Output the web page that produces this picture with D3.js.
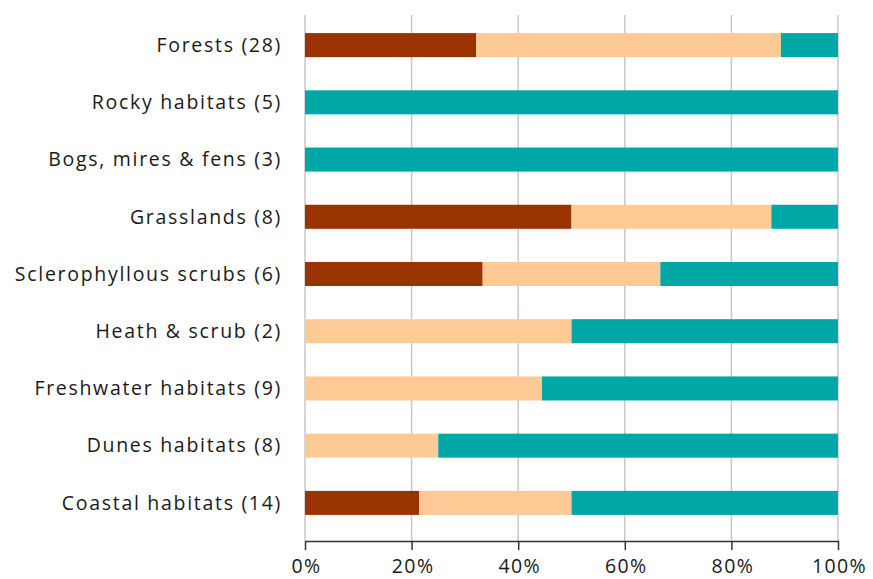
<!DOCTYPE html>
<html>
<head>
<meta charset="utf-8">
<script src="https://cdn.jsdelivr.net/npm/d3@7"></script>
<style>
  body { margin: 0; background: #fff; }
  text { font-family: "Open Sans", "Noto Sans", sans-serif; fill: #1a1a1a; }
</style>
</head>
<body>
<div id="chart"></div>
<script>
// habitat types, with number of assessments
var categories = ["Forests (28)", "Rocky habitats (5)", "Bogs, mires & fens (3)", "Grasslands (8)",
    "Sclerophyllous scrubs (6)", "Heath & scrub (2)", "Freshwater habitats (9)",
    "Dunes habitats (8)", "Coastal habitats (14)"];
var seriesA = [9, 0, 0, 4, 2, 0, 0, 0, 3];   // dark brown
var seriesB = [16, 0, 0, 3, 2, 1, 4, 2, 4];  // peach
var seriesC = [3, 5, 3, 1, 2, 1, 5, 6, 7];   // teal
var tickValues = [0, 0.2, 0.4, 0.6, 0.8, 1];

var colors = ["#993300", "#FFCA96", "#00A7A7"];

var width = 873, height = 579;

var svg = d3.select("#chart")
    .append("svg")
    .attr("width", width)
    .attr("height", height);

var rows = categories.map(function (c, i) {
    var tot = seriesA[i] + seriesB[i] + seriesC[i];
    return { cat: c, a: seriesA[i] / tot, b: seriesB[i] / tot, c: seriesC[i] / tot };
});

var stack = d3.stack().keys(["a", "b", "c"]);
var layers = stack(rows);

var x = d3.scaleLinear().domain([0, 1]).range([305, 838]);
var y = d3.scaleBand().domain(categories).range([16.5, 531.5]).paddingInner(0.58).paddingOuter(0.29);

var axisY = 541;

// gridlines
svg.append("g")
    .selectAll("line")
    .data(tickValues)
    .enter()
    .append("line")
    .attr("x1", function (d) { return x(d); })
    .attr("x2", function (d) { return x(d); })
    .attr("y1", 15)
    .attr("y2", axisY)
    .attr("stroke", "#c8c8c8")
    .attr("stroke-width", 1.5);

// bars
svg.append("g")
    .selectAll("g")
    .data(layers)
    .enter()
    .append("g")
    .attr("fill", function (d, i) { return colors[i]; })
    .selectAll("rect")
    .data(function (d) { return d; })
    .enter()
    .append("rect")
    .attr("x", function (d) { return x(d[0]); })
    .attr("y", function (d) { return y(d.data.cat); })
    .attr("width", function (d) { return x(d[1]) - x(d[0]); })
    .attr("height", y.bandwidth());

// x axis
var xAxis = d3.axisBottom(x)
    .tickValues(tickValues)
    .tickFormat(d3.format(".0%"))
    .tickSize(9)
    .tickSizeOuter(0);

var gx = svg.append("g")
    .attr("transform", "translate(0," + axisY + ")")
    .call(xAxis);
gx.select(".domain").attr("stroke", "#333").attr("stroke-width", 1.5);
gx.selectAll(".tick line").attr("stroke", "#333").attr("stroke-width", 1.5);
gx.selectAll(".tick text")
    .attr("y", 18)
    .attr("dx", "1px")
    .style("font-size", "19.5px")
    .style("letter-spacing", "1.4px")
    .style("font-family", "'Open Sans', sans-serif")
    .attr("fill", "#1a1a1a");

// category labels
svg.append("g")
    .selectAll("text")
    .data(categories)
    .enter()
    .append("text")
    .attr("x", 282)
    .attr("y", function (d) { return y(d) + y.bandwidth() / 2; })
    .attr("dy", "0.35em")
    .attr("text-anchor", "end")
    .style("font-size", "19.5px")
    .style("letter-spacing", "1.7px")
    .text(function (d) { return d; });
</script>
</body>
</html>
